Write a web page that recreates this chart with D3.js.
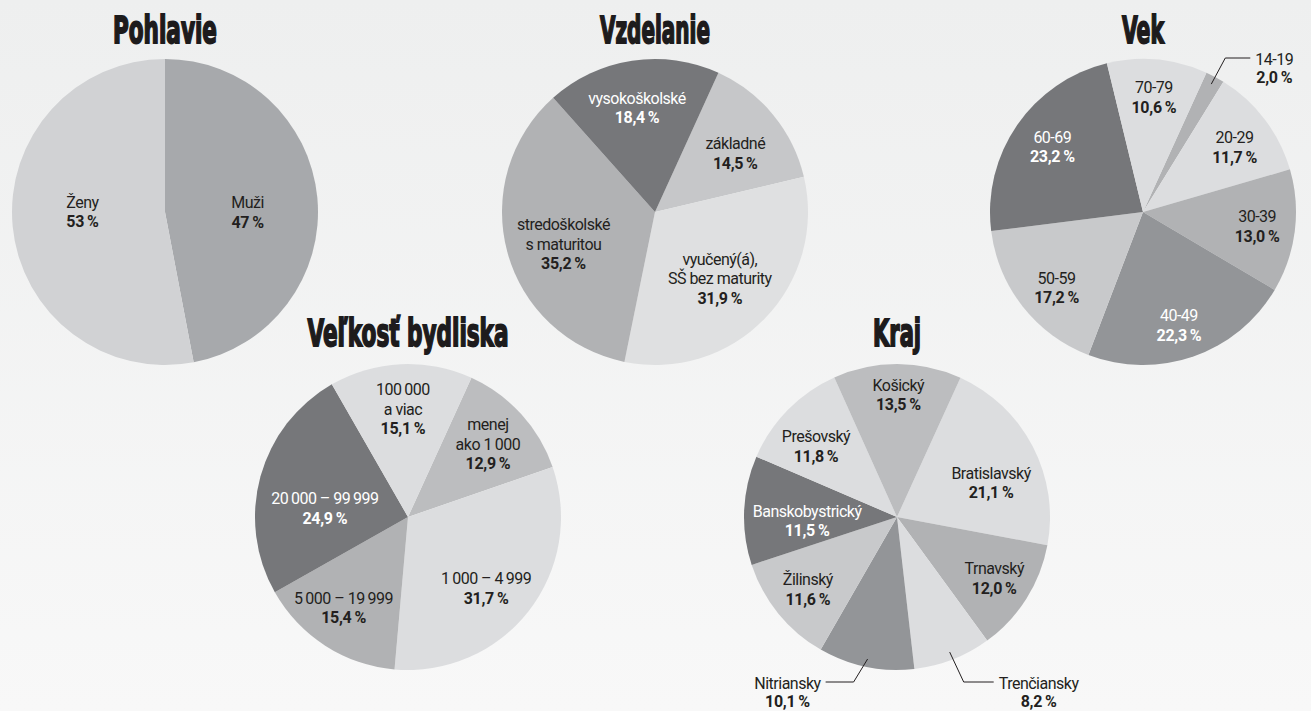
<!DOCTYPE html>
<html lang="sk">
<head>
<meta charset="utf-8">
<script src="https://cdn.jsdelivr.net/npm/d3@7"></script>
<style>
html, body { margin: 0; padding: 0; }
body { width: 1311px; height: 711px; overflow: hidden; }
svg { display: block; }
.title {
	font-family: "Liberation Sans Narrow", "DejaVu Sans Condensed", sans-serif;
	font-weight: bold;
	font-size: 37px;
	fill: #1d1b1c;
	stroke: #1d1b1c;
	stroke-width: 1.8px;
}
.lbl { font-family: Roboto, "Open Sans", sans-serif; font-size: 16px; letter-spacing: -0.5px; }
.val { font-weight: 700; letter-spacing: -0.3px; }
.leader { fill: none; stroke: #231f20; stroke-width: 1; }
</style>
</head>
<body>
<svg id="chart" width="1311" height="711"></svg>
<script>
const WIDTH = 1311;
const HEIGHT = 711;
const RADIUS = 153;
const LINE = 19.5;
const deg = Math.PI / 180;

// Pohlavie
const genderCategories = ["Muži", "Ženy"];
const genderValues = [47, 53];

// Vzdelanie
const educationCategories = ["základné", "vyučený(á),\nSŠ bez maturity", "stredoškolské\ns maturitou", "vysokoškolské"];
const educationValues = [14.5, 31.9, 35.2, 18.4];

// Vek
const ageCategories = ["14-19", "20-29", "30-39", "40-49", "50-59", "60-69", "70-79"];
const ageValues = [2.0, 11.7, 13.0, 22.3, 17.2, 23.2, 10.6];

// Veľkosť bydliska
const townCategories = ["menej\nako 1\u2009000", "1\u2009000 – 4\u2009999", "5\u2009000 – 19\u2009999", "20\u2009000 – 99\u2009999", "100\u2009000\na viac"];
const townValues = [12.9, 31.7, 15.4, 24.9, 15.1];

// Kraj
const regionCategories = ["Bratislavský", "Trnavský", "Trenčiansky", "Nitriansky", "Žilinský", "Banskobystrický", "Prešovský", "Košický"];
const regionValues = [21.1, 12.0, 8.2, 10.1, 11.6, 11.5, 11.8, 13.5];

const GREY = {
	dark: "#76777a",
	mid: "#939598",
	medium: "#b1b2b4",
	soft: "#bcbdbf",
	pale: "#c8c9cb",
	light: "#dcdddf",
};

const charts = [
	{
		title: "Pohlavie", cats: genderCategories, vals: genderValues,
		cx: 165, cy: 212, titleY: 43, titleW: 104, start: 0, digits: 0, labelR: 83,
		colors: ["#a7a9ac", "#d1d2d4"],
		nudge: { "Muži": [0, 8], "Ženy": [0, -8] },
	},
	{
		title: "Vzdelanie", cats: educationCategories, vals: educationValues,
		cx: 655, cy: 212, titleY: 43, titleW: 110, start: 24.5, digits: 1, labelR: 100,
		colors: ["#c6c7c9", "#dfe0e1", GREY.medium, GREY.dark],
		nudge: {
			"vysokoškolské": [-3, -5],
			"základné": [3, 5],
			"vyučený(á),\nSŠ bez maturity": [-7, -3],
			"stredoškolské\ns maturitou": [5, 6],
		},
	},
	{
		title: "Vek", cats: ageCategories, vals: ageValues,
		cx: 1143, cy: 212, titleY: 43, titleW: 42, start: 24.5, digits: 1, labelR: 115,
		colors: [GREY.medium, GREY.light, GREY.medium, GREY.mid, GREY.pale, GREY.dark, GREY.light],
		nudge: { "20-29": [0, 5], "40-49": [-2, 5], "50-59": [4, 5], "60-69": [4, 0] },
		outside: { "14-19": { side: 1, elbowY: -154, run: 25 } },
	},
	{
		title: "Veľkosť bydliska", cats: townCategories, vals: townValues,
		cx: 408, cy: 517, titleY: 346, titleW: 201, start: 24.5, digits: 1, labelR: 108,
		colors: [GREY.soft, GREY.light, GREY.medium, GREY.dark, GREY.light],
		nudge: {
			"1\u2009000 – 4\u2009999": [-7, 5],
			"5\u2009000 – 19\u2009999": [-6, 0],
			"20\u2009000 – 99\u2009999": [21, 20],
		},
	},
	{
		title: "Kraj", cats: regionCategories, vals: regionValues,
		cx: 897, cy: 517, titleY: 346, titleW: 48, start: 24.5, digits: 1, labelR: 115,
		colors: [GREY.light, GREY.medium, GREY.light, GREY.mid, GREY.pale, GREY.dark, GREY.light, GREY.soft],
		nudge: {
			"Košický": [1, -7],
			"Bratislavský": [-8, 19],
			"Banskobystrický": [25, 9],
			"Prešovský": [1, 10],
		},
		outside: {
			"Nitriansky": { side: -1, elbowY: 165, run: 28 },
			"Trenčiansky": { side: 1, elbowY: 165, run: 30 },
		},
	},
];

const svg = d3.select("#chart");

const grad = svg.append("defs")
	.append("linearGradient")
	.attr("id", "bg")
	.attr("x1", 0).attr("y1", 0)
	.attr("x2", 0).attr("y2", 1);
grad.append("stop").attr("offset", "0%").attr("stop-color", "#eeefef");
grad.append("stop").attr("offset", "100%").attr("stop-color", "#f8f8f8");
svg.append("rect").attr("width", WIDTH).attr("height", HEIGHT).attr("fill", "url(#bg)");

const locale = d3.formatLocale({ decimal: ",", thousands: "\u2009", grouping: [3], currency: ["", "€"] });

function textColor(fill) {
	return d3.hsl(fill).l < 0.6 ? "#ffffff" : "#231f20";
}

function drawPie(c) {
	const g = svg.append("g").attr("transform", `translate(${c.cx},${c.cy})`);
	const data = c.cats.map((name, i) => ({ name, value: c.vals[i], color: c.colors[i] }));
	const pie = d3.pie()
		.sort(null)
		.value(d => d.value)
		.startAngle(c.start * deg)
		.endAngle(c.start * deg + 2 * Math.PI);
	const arcs = pie(data);
	const arc = d3.arc().innerRadius(0).outerRadius(RADIUS);
	const labelArc = d3.arc().innerRadius(c.labelR).outerRadius(c.labelR);
	const leaderArc = d3.arc().innerRadius(145).outerRadius(145);
	const fmt = locale.format(c.digits ? ".1f" : "d");
	const pct = v => fmt(v) + "\u2009%";
	const outside = c.outside || {};
	const nudge = c.nudge || {};

	g.selectAll("path.slice")
		.data(arcs)
		.join("path")
		.attr("class", "slice")
		.attr("d", arc)
		.attr("fill", d => d.data.color);

	g.append("text")
		.attr("class", "title")
		.attr("text-anchor", "middle")
		.attr("x", 0)
		.attr("y", c.titleY - c.cy)
		.attr("textLength", c.titleW)
		.attr("lengthAdjust", "spacingAndGlyphs")
		.text(c.title);

	// labels inside the slices
	arcs.filter(d => !outside[d.data.name]).forEach(d => {
		const [x0, y0] = labelArc.centroid(d);
		const [nx, ny] = nudge[d.data.name] || [0, 0];
		const lines = d.data.name.split("\n").concat([pct(d.data.value)]);
		const n = lines.length;
		const t = g.append("text")
			.attr("class", "lbl")
			.attr("text-anchor", "middle")
			.attr("fill", textColor(d.data.color));
		lines.forEach((s, i) => {
			t.append("tspan")
				.attr("x", x0 + nx)
				.attr("y", y0 + ny + (i - (n - 1) / 2) * LINE)
				.attr("dy", "0.35em")
				.attr("class", i === n - 1 ? "val" : null)
				.text(s);
		});
	});

	// labels outside with leader lines
	arcs.filter(d => outside[d.data.name]).forEach(d => {
		const o = outside[d.data.name];
		const [sx, sy] = leaderArc.centroid(d);
		const ex = sx + o.side * 14;
		const ey = o.elbowY;
		const tx = ex + o.side * o.run;
		g.append("polyline")
			.attr("class", "leader")
			.attr("points", [[sx, sy], [ex, ey], [tx, ey]].map(p => p.join(",")).join(" "));
		const name = g.append("text")
			.attr("class", "lbl")
			.attr("x", tx + o.side * 5)
			.attr("y", ey + 1)
			.attr("dy", "0.35em")
			.attr("text-anchor", o.side > 0 ? "start" : "end")
			.attr("fill", "#231f20")
			.text(d.data.name);
		const w = name.node().getComputedTextLength();
		g.append("text")
			.attr("class", "lbl val")
			.attr("x", tx + o.side * (5 + w / 2))
			.attr("y", ey + 1 + 18.5)
			.attr("dy", "0.35em")
			.attr("text-anchor", "middle")
			.attr("fill", "#231f20")
			.text(pct(d.data.value));
	});
}

charts.forEach(drawPie);
</script>
</body>
</html>
